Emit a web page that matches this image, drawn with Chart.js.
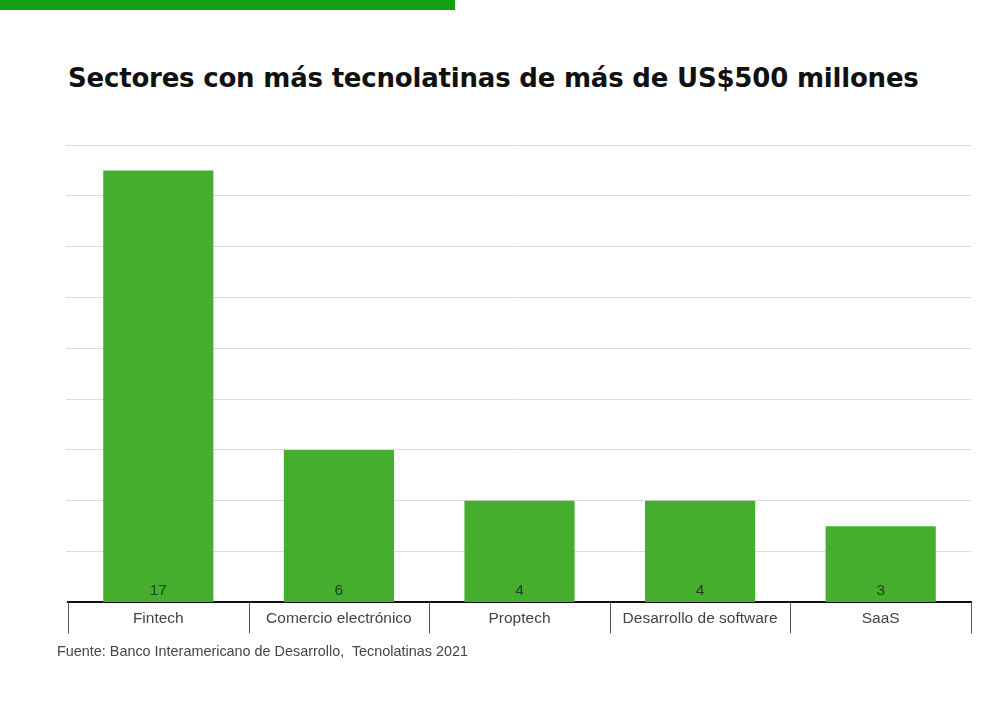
<!DOCTYPE html>
<html>
<head>
<meta charset="utf-8">
<script src="https://cdn.jsdelivr.net/npm/chart.js@4"></script>
<style>
  body { margin: 0; background: #fff; }
  #wrap { position: relative; width: 1000px; height: 701px; overflow: hidden; }
  #topbar { position: absolute; left: 0; top: 0; width: 455px; height: 10px; background: #12a012; }
  #title { position: absolute; left: 68px; top: 63px; font: bold 26px "DejaVu Sans", sans-serif; letter-spacing: -0.2px; color: #111; white-space: nowrap; }
  #source { position: absolute; left: 57px; top: 643px; font: 14.4px "Liberation Sans", Arial, sans-serif; color: #444; white-space: nowrap; }
  #chartBox { position: absolute; left: 0; top: 0; width: 1000px; height: 701px; }
</style>
</head>
<body>
<div id="wrap">
  <div id="topbar"></div>
  <div id="title">Sectores con más tecnolatinas de más de US$500 millones</div>
  <div id="chartBox"><canvas id="chart"></canvas></div>
  <div id="source">Fuente: Banco Interamericano de Desarrollo,&nbsp; Tecnolatinas 2021</div>
</div>
<script>
// data
const sectors = ['Fintech', 'Comercio electrónico', 'Proptech', 'Desarrollo de software', 'SaaS'];
const companies = [17, 6, 4, 4, 3];

// writes the count at the foot of each bar
const valueLabels = {
  id: 'valueLabels',
  afterDatasetsDraw(chart) {
    const ctx = chart.ctx;
    const meta = chart.getDatasetMeta(0);
    ctx.save();
    ctx.font = '15.5px "Liberation Sans", Arial, sans-serif';
    ctx.fillStyle = '#1a451a';
    ctx.textAlign = 'center';
    ctx.textBaseline = 'middle';
    meta.data.forEach((bar, i) => {
      ctx.fillText(String(companies[i]), bar.x, bar.base - 11);
    });
    ctx.restore();
  }
};

// vertical separators between the category labels, under the axis
const separators = {
  id: 'separators',
  afterDraw(chart) {
    const ctx = chart.ctx;
    const x = chart.scales.x;
    const bottom = chart.chartArea.bottom;
    const half = (x.getPixelForValue(1) - x.getPixelForValue(0)) / 2;
    ctx.save();
    ctx.strokeStyle = '#555';
    ctx.lineWidth = 1;
    for (let i = 0; i <= sectors.length; i++) {
      const px = Math.round(x.getPixelForValue(i) - half) + 0.5;
      ctx.beginPath();
      ctx.moveTo(px, bottom);
      ctx.lineTo(px, bottom + 31);
      ctx.stroke();
    }
    ctx.restore();
  }
};

new Chart(document.getElementById('chart'), {
  type: 'bar',
  data: {
    labels: sectors,
    datasets: [{
      data: companies,
      backgroundColor: '#46ae2f',
      barPercentage: 0.61,
      categoryPercentage: 1
    }]
  },
  options: {
    responsive: true,
    maintainAspectRatio: false,
    animation: false,
    layout: { padding: { top: 145, left: 66, right: 29, bottom: 66 } },
    plugins: { legend: { display: false }, tooltip: { enabled: false } },
    scales: {
      x: {
        grid: { display: false, drawTicks: false },
        border: { color: '#111', width: 2 },
        ticks: { padding: 7, color: '#444', font: { size: 15.5, family: '"Liberation Sans", Arial, sans-serif' } }
      },
      y: {
        min: 0, max: 18,
        ticks: { display: false, stepSize: 2 },
        border: { display: false },
        grid: { color: '#dcdcdc', drawTicks: true, tickLength: 2 }
      }
    }
  },
  plugins: [valueLabels, separators]
});
</script>
</body>
</html>
